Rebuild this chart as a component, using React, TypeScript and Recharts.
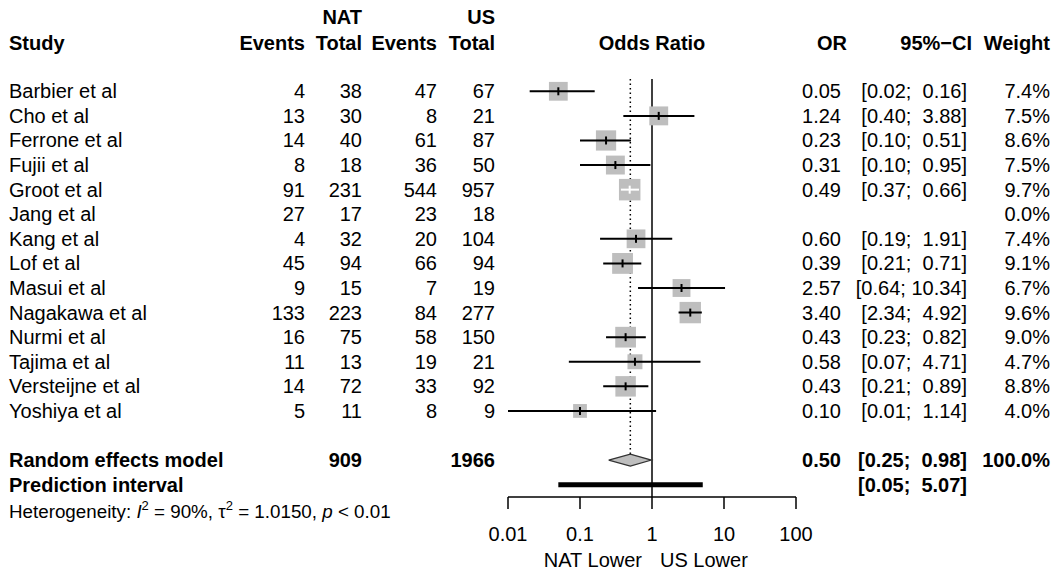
import React from "react";
import {
  ComposedChart,
  Scatter,
  XAxis,
  YAxis,
  ReferenceLine,
  Customized,
} from "recharts";

const FONT = "'Liberation Sans', Arial, Helvetica, sans-serif";
const FS = 20;

// study table
const studies = [
  "Barbier et al",
  "Cho et al",
  "Ferrone et al",
  "Fujii et al",
  "Groot et al",
  "Jang et al",
  "Kang et al",
  "Lof et al",
  "Masui et al",
  "Nagakawa et al",
  "Nurmi et al",
  "Tajima et al",
  "Versteijne et al",
  "Yoshiya et al",
];
const natEvents = [4, 13, 14, 8, 91, 27, 4, 45, 9, 133, 16, 11, 14, 5];
const natTotal = [38, 30, 40, 18, 231, 17, 32, 94, 15, 223, 75, 13, 72, 11];
const usEvents = [47, 8, 61, 36, 544, 23, 20, 66, 7, 84, 58, 19, 33, 8];
const usTotal = [67, 21, 87, 50, 957, 18, 104, 94, 19, 277, 150, 21, 92, 9];
const oddsRatio = [0.05, 1.24, 0.23, 0.31, 0.49, null, 0.6, 0.39, 2.57, 3.4, 0.43, 0.58, 0.43, 0.1];
const ciLower = [0.02, 0.4, 0.1, 0.1, 0.37, null, 0.19, 0.21, 0.64, 2.34, 0.23, 0.07, 0.21, 0.01];
const ciUpper = [0.16, 3.88, 0.51, 0.95, 0.66, null, 1.91, 0.71, 10.34, 4.92, 0.82, 4.71, 0.89, 1.14];
const weights = [7.4, 7.5, 8.6, 7.5, 9.7, 0.0, 7.4, 9.1, 6.7, 9.6, 9.0, 4.7, 8.8, 4.0];

// summary rows
const pooledTotals = [909, 1966];
const pooledEstimate = [0.5, 0.25, 0.98]; // OR, lower, upper
const pooledWeight = 100.0;
const predictionInterval = [0.05, 5.07];

const xTicks = [0.01, 0.1, 1, 10, 100];
// CI narrower than its box is drawn in white
const ciInsideBox = ["Groot et al"];

const POOLED_ROW = 15;
const PRED_ROW = 16;

// right edges of the text columns
const COL = {
  natEvents: 305,
  natTotal: 362,
  usEvents: 437,
  usTotal: 495,
  or: 841,
  orHead: 847,
  ci: 967,
  ciHead: 972,
  weight: 1050,
};

const fmtCi = (lo: number, hi: number) =>
  `[${lo.toFixed(2)}; ${hi.toFixed(2).padStart(5, " ")}]`;

const studyPoints = studies
  .map((name, i) => ({ name, x: oddsRatio[i] as number, y: i, w: weights[i] }))
  .filter((p) => p.x != null);

// CI segments as (lower, upper) point pairs
const ciPairs = (inside: boolean) =>
  studyPoints
    .filter((p) => ciInsideBox.includes(p.name) === inside)
    .flatMap((p) => [
      { x: ciLower[p.y] as number, y: p.y },
      { x: ciUpper[p.y] as number, y: p.y },
    ]);
const blackCi = ciPairs(false);
const whiteCi = ciPairs(true);
const blackCenters = studyPoints.filter((p) => !ciInsideBox.includes(p.name));
const whiteCenters = studyPoints.filter((p) => ciInsideBox.includes(p.name));

const [pOr, pLo, pHi] = pooledEstimate;
const DIAMOND_HALF = 0.245;
const diamond = [
  { x: pLo, y: POOLED_ROW },
  { x: pOr, y: POOLED_ROW - DIAMOND_HALF },
  { x: pHi, y: POOLED_ROW },
  { x: pOr, y: POOLED_ROW + DIAMOND_HALF },
  { x: pLo, y: POOLED_ROW },
];
const predictionBar = predictionInterval.map((x) => ({ x, y: PRED_ROW }));

const T = ({
  x,
  y,
  anchor = "end",
  bold = false,
  size = FS,
  children,
}: {
  x: number;
  y: number;
  anchor?: "start" | "middle" | "end";
  bold?: boolean;
  size?: number;
  children: React.ReactNode;
}) => (
  <text
    x={x}
    y={y}
    textAnchor={anchor}
    fontFamily={FONT}
    fontSize={size}
    fontWeight={bold ? "bold" : "normal"}
    fill="#000"
    style={{ whiteSpace: "pre" }}
  >
    {children}
  </text>
);

const Square = (props: any) => {
  const { cx, cy, payload } = props;
  const s = 6.9 * Math.sqrt(payload.w);
  return <rect x={cx - s / 2} y={cy - s / 2} width={s} height={s} fill="#bebebe" />;
};

const centerTick = (color: string) => (props: any) => {
  const { cx, cy } = props;
  return <line x1={cx} x2={cx} y1={cy - 4} y2={cy + 4} stroke={color} strokeWidth={2} />;
};

const NoShape = () => <g />;

// draws pairs of scatter points as separate segments
const Segments = (props: any) => {
  const { points = [], segColor, segWidth } = props;
  let d = "";
  for (let k = 0; k + 1 < points.length; k += 2) {
    d += `M${points[k].x},${points[k].y}L${points[k + 1].x},${points[k + 1].y}`;
  }
  return <path d={d} stroke={segColor} strokeWidth={segWidth} fill="none" />;
};

// one table row per y tick
const RowTick = (props: any) => {
  const { y, payload } = props;
  const row = payload.value as number;
  const b = y + 7;
  if (row < studies.length) {
    const i = row;
    return (
      <g>
        <T x={9} y={b} anchor="start">{studies[i]}</T>
        <T x={COL.natEvents} y={b}>{natEvents[i]}</T>
        <T x={COL.natTotal} y={b}>{natTotal[i]}</T>
        <T x={COL.usEvents} y={b}>{usEvents[i]}</T>
        <T x={COL.usTotal} y={b}>{usTotal[i]}</T>
        {oddsRatio[i] != null && (
          <T x={COL.or} y={b}>{(oddsRatio[i] as number).toFixed(2)}</T>
        )}
        {oddsRatio[i] != null && (
          <T x={COL.ci} y={b}>{fmtCi(ciLower[i] as number, ciUpper[i] as number)}</T>
        )}
        <T x={COL.weight} y={b}>{`${weights[i].toFixed(1)}%`}</T>
      </g>
    );
  }
  if (row === POOLED_ROW) {
    return (
      <g>
        <T x={9} y={b} anchor="start" bold>Random effects model</T>
        <T x={COL.natTotal} y={b} bold>{pooledTotals[0]}</T>
        <T x={COL.usTotal} y={b} bold>{pooledTotals[1]}</T>
        <T x={COL.or} y={b} bold>{pOr.toFixed(2)}</T>
        <T x={COL.ci} y={b} bold>{fmtCi(pLo, pHi)}</T>
        <T x={COL.weight} y={b} bold>{`${pooledWeight.toFixed(1)}%`}</T>
      </g>
    );
  }
  if (row === PRED_ROW) {
    return (
      <g>
        <T x={9} y={b} anchor="start" bold>Prediction interval</T>
        <T x={COL.ci} y={b} bold>{fmtCi(predictionInterval[0], predictionInterval[1])}</T>
      </g>
    );
  }
  return <g />;
};

const Headers = () => (
  <g>
    <T x={COL.natTotal} y={24} bold>NAT</T>
    <T x={COL.usTotal} y={24} bold>US</T>
    <T x={9} y={50} anchor="start" bold>Study</T>
    <T x={COL.natEvents} y={50} bold>Events</T>
    <T x={COL.natTotal} y={50} bold>Total</T>
    <T x={COL.usEvents} y={50} bold>Events</T>
    <T x={COL.usTotal} y={50} bold>Total</T>
    <T x={652} y={50} anchor="middle" bold>Odds Ratio</T>
    <T x={COL.orHead} y={50} bold>OR</T>
    <T x={COL.ciHead} y={50} bold>95%−CI</T>
    <T x={COL.weight} y={50} bold>Weight</T>
    <text x={9} y={518} fontFamily={FONT} fontSize={18.8} fill="#000" style={{ whiteSpace: "pre" }}>
      Heterogeneity: <tspan fontStyle="italic">I</tspan>
      <tspan dy={-8} fontSize={13}>2</tspan>
      <tspan dy={8}> = 90%, τ</tspan>
      <tspan dy={-8} fontSize={13}>2</tspan>
      <tspan dy={8}> = 1.0150, </tspan>
      <tspan fontStyle="italic">p</tspan>
      <tspan>{" < 0.01"}</tspan>
    </text>
    <T x={642} y={567}>NAT Lower</T>
    <T x={660} y={567} anchor="start">US Lower</T>
  </g>
);

const rowTicks = [...studies.map((_, i) => i), POOLED_ROW, PRED_ROW];

export default function App() {
  return (
    <div style={{ position: "absolute", left: 0, top: 0, background: "#fff" }}>
      <ComposedChart
        width={1057}
        height={573}
        margin={{ top: 79, right: 261, bottom: 16, left: 507 }}
        style={{ fontFamily: FONT }}
      >
        <XAxis
          type="number"
          dataKey="x"
          scale="log"
          domain={[0.01, 100]}
          ticks={xTicks}
          tickFormatter={(v: number) => String(v)}
          height={60}
          tickSize={12}
          tickMargin={18}
          interval={0}
          stroke="#000"
          strokeWidth={1.5}
          tick={{ fill: "#000", fontSize: FS, fontFamily: FONT }}
        />
        <YAxis
          type="number"
          dataKey="y"
          domain={[-0.5, 16.5]}
          reversed
          width={1}
          ticks={rowTicks}
          interval={0}
          axisLine={false}
          tickLine={false}
          tick={<RowTick />}
        />
        <ReferenceLine x={1} stroke="#000" strokeWidth={1.5} />
        <ReferenceLine
          segment={[
            { x: pOr, y: -0.5 },
            { x: pOr, y: POOLED_ROW - DIAMOND_HALF },
          ]}
          stroke="#000"
          strokeWidth={1.5}
          strokeDasharray="1.5 3"
        />
        <Scatter data={studyPoints} shape={<Square />} isAnimationActive={false} />
        <Scatter
          data={blackCi}
          shape={<NoShape />}
          line={<Segments segColor="#000" segWidth={2} />}
          isAnimationActive={false}
        />
        <Scatter
          data={whiteCi}
          shape={<NoShape />}
          line={<Segments segColor="#fff" segWidth={2} />}
          isAnimationActive={false}
        />
        <Scatter data={blackCenters} shape={centerTick("#000")} isAnimationActive={false} />
        <Scatter data={whiteCenters} shape={centerTick("#fff")} isAnimationActive={false} />
        <Scatter
          data={diamond}
          shape={<NoShape />}
          line={{ fill: "#bebebe", stroke: "#333", strokeWidth: 1.2 }}
          isAnimationActive={false}
        />
        <Scatter
          data={predictionBar}
          shape={<NoShape />}
          line={{ stroke: "#000", strokeWidth: 5 }}
          isAnimationActive={false}
        />
        <Customized component={Headers} />
      </ComposedChart>
    </div>
  );
}
